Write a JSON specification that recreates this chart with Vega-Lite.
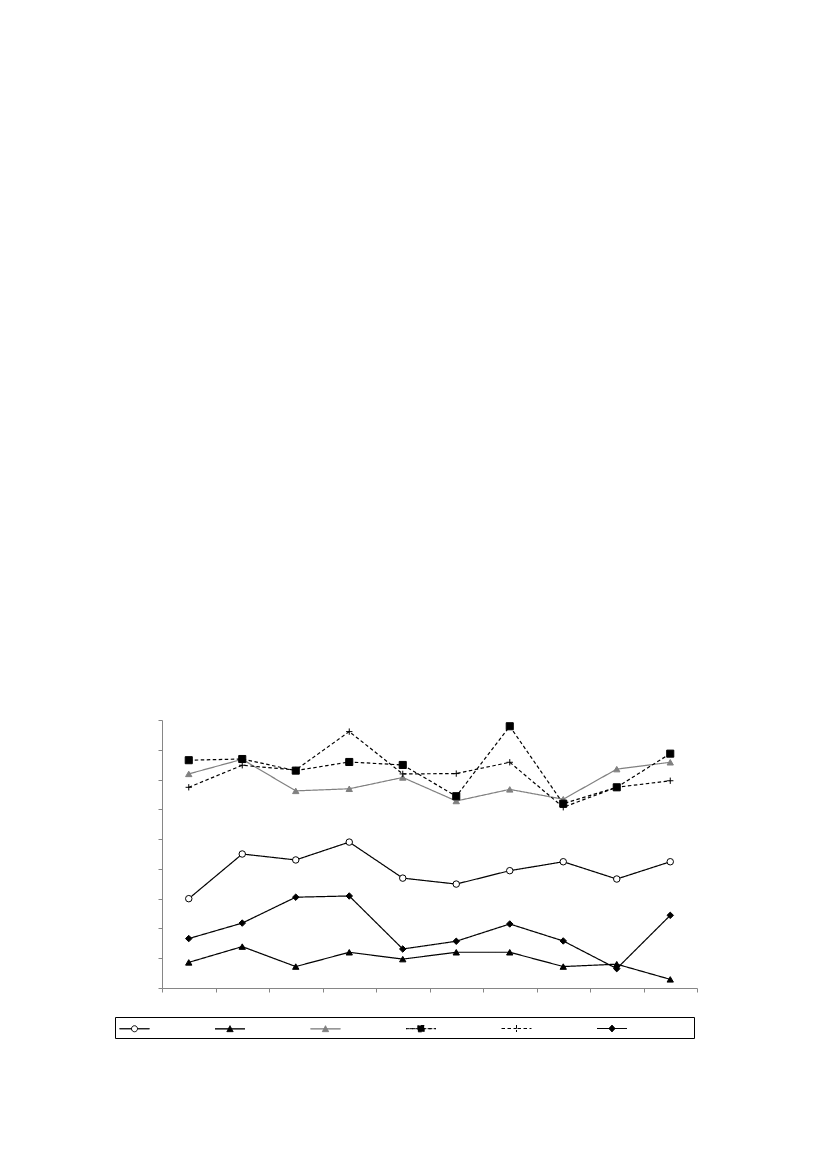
{
  "$schema": "https://vega.github.io/schema/vega-lite/v6.json",
  "autosize": {"type": "none"},
  "padding": {"left": 162, "top": 720, "right": 130, "bottom": 181},
  "width": 535,
  "height": 268,
  "background": "white",
  "config": {"view": {"stroke": null}},
  "data": {
    "values": [
      {"period": 1, "series": "S1", "value": 30.0},
      {"period": 2, "series": "S1", "value": 45.0},
      {"period": 3, "series": "S1", "value": 43.0},
      {"period": 4, "series": "S1", "value": 49.0},
      {"period": 5, "series": "S1", "value": 36.9},
      {"period": 6, "series": "S1", "value": 34.9},
      {"period": 7, "series": "S1", "value": 39.4},
      {"period": 8, "series": "S1", "value": 42.4},
      {"period": 9, "series": "S1", "value": 36.6},
      {"period": 10, "series": "S1", "value": 42.4},
      {"period": 1, "series": "S2", "value": 8.6},
      {"period": 2, "series": "S2", "value": 13.9},
      {"period": 3, "series": "S2", "value": 7.2},
      {"period": 4, "series": "S2", "value": 12.0},
      {"period": 5, "series": "S2", "value": 9.7},
      {"period": 6, "series": "S2", "value": 12.0},
      {"period": 7, "series": "S2", "value": 12.0},
      {"period": 8, "series": "S2", "value": 7.2},
      {"period": 9, "series": "S2", "value": 8.0},
      {"period": 10, "series": "S2", "value": 2.9},
      {"period": 1, "series": "S3", "value": 71.9},
      {"period": 2, "series": "S3", "value": 76.8},
      {"period": 3, "series": "S3", "value": 66.2},
      {"period": 4, "series": "S3", "value": 66.9},
      {"period": 5, "series": "S3", "value": 70.7},
      {"period": 6, "series": "S3", "value": 62.8},
      {"period": 7, "series": "S3", "value": 66.7},
      {"period": 8, "series": "S3", "value": 63.4},
      {"period": 9, "series": "S3", "value": 73.5},
      {"period": 10, "series": "S3", "value": 75.8},
      {"period": 1, "series": "S4", "value": 76.5},
      {"period": 2, "series": "S4", "value": 76.9},
      {"period": 3, "series": "S4", "value": 73.0},
      {"period": 4, "series": "S4", "value": 75.9},
      {"period": 5, "series": "S4", "value": 74.9},
      {"period": 6, "series": "S4", "value": 64.4},
      {"period": 7, "series": "S4", "value": 87.9},
      {"period": 8, "series": "S4", "value": 61.9},
      {"period": 9, "series": "S4", "value": 67.4},
      {"period": 10, "series": "S4", "value": 78.7},
      {"period": 1, "series": "S5", "value": 67.4},
      {"period": 2, "series": "S5", "value": 74.8},
      {"period": 3, "series": "S5", "value": 73.2},
      {"period": 4, "series": "S5", "value": 86.1},
      {"period": 5, "series": "S5", "value": 71.9},
      {"period": 6, "series": "S5", "value": 72.0},
      {"period": 7, "series": "S5", "value": 75.8},
      {"period": 8, "series": "S5", "value": 60.7},
      {"period": 9, "series": "S5", "value": 67.4},
      {"period": 10, "series": "S5", "value": 69.6},
      {"period": 1, "series": "S6", "value": 16.6},
      {"period": 2, "series": "S6", "value": 21.8},
      {"period": 3, "series": "S6", "value": 30.5},
      {"period": 4, "series": "S6", "value": 30.9},
      {"period": 5, "series": "S6", "value": 13.1},
      {"period": 6, "series": "S6", "value": 15.7},
      {"period": 7, "series": "S6", "value": 21.5},
      {"period": 8, "series": "S6", "value": 15.8},
      {"period": 9, "series": "S6", "value": 6.5},
      {"period": 10, "series": "S6", "value": 24.4}
    ]
  },
  "encoding": {
    "x": {
      "field": "period",
      "type": "ordinal",
      "scale": {"type": "band", "paddingInner": 0, "paddingOuter": 0},
      "axis": {
        "title": null,
        "labels": false,
        "tickBand": "extent",
        "tickSize": 4,
        "tickColor": "#868686",
        "domainColor": "#868686",
        "grid": false
      }
    },
    "y": {
      "field": "value",
      "type": "quantitative",
      "scale": {"domain": [0, 90], "nice": false},
      "axis": {
        "title": null,
        "labels": false,
        "values": [0, 10, 20, 30, 40, 50, 60, 70, 80, 90],
        "tickSize": 4,
        "tickColor": "#868686",
        "domainColor": "#868686",
        "grid": false
      }
    }
  },
  "layer": [
    {
      "mark": {"type": "line", "strokeWidth": 1.2},
      "encoding": {
        "color": {
          "field": "series",
          "type": "nominal",
          "scale": {
            "domain": ["S1", "S2", "S3", "S4", "S5", "S6"],
            "range": ["black", "black", "#808080", "black", "black", "black"]
          },
          "legend": {
            "orient": "none",
            "legendX": -47,
            "legendY": 297,
            "direction": "horizontal",
            "columns": 6,
            "title": null,
            "strokeColor": "black",
            "padding": 4,
            "symbolSize": 196,
            "symbolOffset": 8,
            "labelExpr": "''",
            "labelFontSize": 8,
            "labelOffset": 70,
            "columnPadding": 0.5,
            "encode": {
              "symbols": {
                "update": {
                  "shape": {"signal": "datum.value==='S1'?'M-2.14,0L-0.43,0A0.43,0.43,0,0,1,0.43,0L2.14,0L0.43,0A0.43,0.43,0,0,1,-0.43,0Z':(datum.value==='S2'||datum.value==='S3')?'M-2.14,0L-0.24,0L0,-0.45L0.45,0.4L-0.45,0.4L-0.24,0L2.14,0Z':datum.value==='S4'?'M-2.14,0L-0.45,0L-0.45,-0.45L0.45,-0.45L0.45,0.45L-0.45,0.45L-0.45,0L2.14,0Z':datum.value==='S5'?'M-2.14,0L0,0L0,-0.5L0,0.5L0,0L2.14,0':'M-2.14,0L-0.45,0L0,-0.5L0.45,0L0,0.5L-0.45,0L2.14,0Z'"},
                  "fill": {"signal": "datum.value==='S1'?'white':datum.value==='S3'?'#808080':datum.value==='S5'?'transparent':'black'"},
                  "strokeDash": {"signal": "(datum.value==='S4'||datum.value==='S5')?[3,2.5]:[]"},
                  "strokeWidth": {"value": 1},
                  "size": {"value": 196},
                  "opacity": {"value": 1}
                }
              }
            }
          }
        },
        "strokeDash": {
          "field": "series",
          "type": "nominal",
          "scale": {
            "domain": ["S1", "S2", "S3", "S4", "S5", "S6"],
            "range": [[1, 0], [1, 0], [1, 0], [3.5, 2.5], [3.5, 2.5], [1, 0]]
          },
          "legend": null
        }
      }
    },
    {
      "transform": [{"filter": "datum.series === 'S1'"}],
      "mark": {"type": "point", "shape": "circle", "size": 42, "filled": false, "fill": "white", "stroke": "black", "strokeWidth": 1, "opacity": 1}
    },
    {
      "transform": [{"filter": "datum.series === 'S2'"}],
      "mark": {"type": "point", "shape": "triangle-up", "size": 40, "filled": true, "fill": "black", "stroke": "black", "strokeWidth": 1, "opacity": 1}
    },
    {
      "transform": [{"filter": "datum.series === 'S3'"}],
      "mark": {"type": "point", "shape": "triangle-up", "size": 40, "filled": true, "fill": "#808080", "stroke": "#808080", "strokeWidth": 1, "opacity": 1}
    },
    {
      "transform": [{"filter": "datum.series === 'S4'"}],
      "mark": {"type": "point", "shape": "square", "size": 50, "filled": true, "fill": "black", "stroke": "black", "strokeWidth": 1, "opacity": 1}
    },
    {
      "transform": [{"filter": "datum.series === 'S5'"}],
      "mark": {"type": "point", "shape": "M-1,0L1,0M0,-1L0,1", "size": 40, "filled": false, "fill": "transparent", "stroke": "black", "strokeWidth": 1, "opacity": 1}
    },
    {
      "transform": [{"filter": "datum.series === 'S6'"}],
      "mark": {"type": "point", "shape": "diamond", "size": 42, "filled": true, "fill": "black", "stroke": "black", "strokeWidth": 1, "opacity": 1}
    }
  ]
}
